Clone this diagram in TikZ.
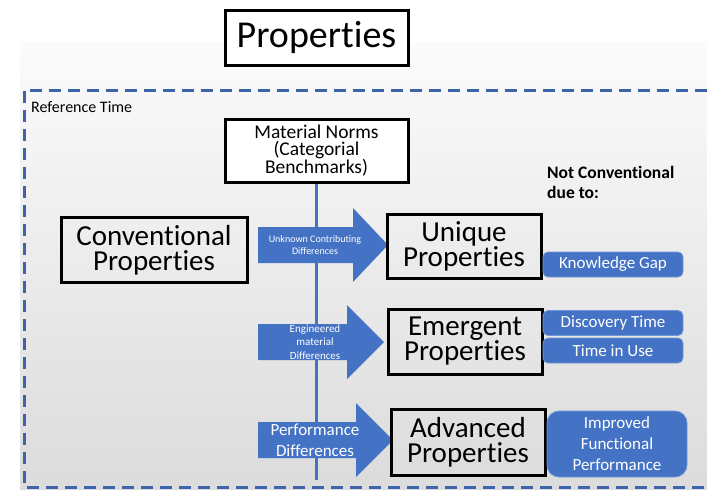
\documentclass[tikz,border=0pt]{standalone}
\usepackage{fontspec}
\setmainfont{Carlito}[RawFeature={-liga;-clig;-calt;-dlig}]
\usetikzlibrary{positioning, calc, shapes}
\definecolor{officeblue}{HTML}{4472C4}
\definecolor{dashblue}{HTML}{3C64A8}
\definecolor{edgeblue}{HTML}{7097D8}

\tikzset{
    propbox/.style={draw=black, line width=3pt, align=center, inner sep=0pt},
    duebox/.style={fill=officeblue, draw=edgeblue, line width=0.8pt, rounded corners=5pt, text=white, align=center,
        minimum width=140pt, minimum height=25pt, inner sep=0pt, font=\fontsize{17}{21}\selectfont},
    arrowlabel/.style={text=white, align=center, inner sep=0pt}
}

\begin{document}
\begin{tikzpicture}[x=1pt, y=-1pt]
    \useasboundingbox (0,0) rectangle (707,490);
    % Grey backdrop and the reference time frame
    \shade[top color=white!98.5!black, bottom color=white!86!black] (20,42) rectangle (707,490);
    \draw[dashblue, line width=3pt, dash pattern=on 12pt off 7pt] (707,90) -- (24,90) -- (24,487) -- (707,487);
    \node[anchor=base west, inner sep=0pt, font=\fontsize{16}{19}\selectfont] (reftime) at (31,112) {Reference Time};
    
    % Title and benchmarks
    \node[propbox, fill=white, minimum width=183pt, minimum height=55pt, font=\fontsize{38}{40}\selectfont] (title) at (316.5,37.5) {Properties};
    \node[propbox, fill=white, minimum width=183pt, minimum height=63pt, font=\fontsize{19.5}{16.5}\selectfont] (matnorms) at (316.5,151) {Material Norms\\(Categorial\\Benchmarks)};
    \coordinate (axisend) at (316.5,480);
    \draw[officeblue, line width=3pt] (matnorms.south) -- (axisend);
    
    % Conventional side
    \node[propbox, minimum width=186pt, minimum height=65pt, font=\fontsize{29}{25}\selectfont] (conv) at (154,250) {Conventional\\Properties};
    
    % Block arrows carrying the differences
    \foreach \n/\cy/\base/\tip/\fs/\bs/\lab in {
        unknown/245/353/388/10/12/{Unknown Contributing\\Differences},
        engineered/342/347/384/11/13.5/{Engineered\\material\\Differences},
        performance/440/356/393/17/21/{Performance\\Differences}} {
        \fill[officeblue] (258,\cy-18) -- (\base,\cy-18) -- (\base,\cy-37) -- (\tip,\cy) -- (\base,\cy+37) -- (\base,\cy+18) -- (258,\cy+18) -- cycle;
        \node[arrowlabel, font=\fontsize{\fs}{\bs}\selectfont] (\n) at (315,\cy) {\lab};
    }
    
    % Non conventional properties
    \node[propbox, minimum width=154pt, minimum height=64pt, font=\fontsize{29}{25}\selectfont] (unique) at (464,246) {Unique\\Properties};
    \node[propbox, minimum width=154pt, minimum height=65pt, font=\fontsize{29}{25}\selectfont] (emergent) at (465,341.5) {Emergent\\Properties};
    \node[propbox, minimum width=154pt, minimum height=66pt, font=\fontsize{29}{25}\selectfont] (advanced) at (468,442.5) {Advanced\\Properties};
    
    % Reasons
    \node[anchor=north west, align=left, inner sep=0pt, font=\bfseries\fontsize{17.5}{20}\selectfont] (notconv) at (547,166) {Not Conventional\\due to:};
    \node[duebox] (kgap) at (613,264.5) {Knowledge Gap};
    \node[duebox] (disctime) at (613,323) {Discovery Time};
    \node[duebox] (useTime) at (613,350.5) {Time in Use};
    \node[duebox, minimum height=66pt, rounded corners=12pt] (improved) at (617,444) {Improved\\Functional\\Performance};
\end{tikzpicture}
\end{document}
